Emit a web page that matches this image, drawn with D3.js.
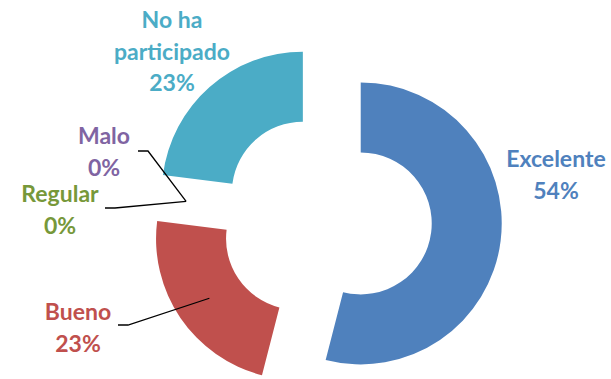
<!DOCTYPE html>
<html>
<head>
<meta charset="utf-8">
<script src="https://cdn.jsdelivr.net/npm/d3@7"></script>
<style>
  body { margin: 0; background: #fff; }
  svg { display: block; }
</style>
</head>
<body>
<div id="chart"></div>
<script>
// data
var categories = ["Excelente", "Bueno", "Regular", "Malo", "No ha participado"];
var percents = [54, 23, 0, 0, 23];
var labelLines = [["Excelente"], ["Bueno"], ["Regular"], ["Malo"], ["No ha", "participado"]];
var colors = ["#4F81BD", "#C0504D", "#9BBB59", "#8064A2", "#4BACC6"];
var textColors = ["#4F81BD", "#C0504D", "#77983A", "#8064A2", "#4BACC6"];

// label placement (center x, first baseline y) and leader start
var labelPos = {
    "Excelente": { x: 556, y: 167, leader: null },
    "Bueno": { x: 78, y: 320, leader: [118, 325] },
    "Regular": { x: 60, y: 202, leader: [105, 208] },
    "Malo": { x: 104, y: 144, leader: [138, 151] },
    "No ha participado": { x: 172, y: 28, leader: null }
};

var width = 611, height = 379;
var cx = 326, cy = 219;
var outerR = 141, innerR = 71, explode = 35;
var lineH = 31.5;

var svg = d3.select("#chart")
    .append("svg")
    .attr("width", width)
    .attr("height", height);

var pie = d3.pie().sort(null).value(function (d) { return d; });
var arcs = pie(percents);

var arc = d3.arc().innerRadius(innerR).outerRadius(outerR);

function offset(d, r) {
    var a = (d.startAngle + d.endAngle) / 2;
    return [Math.sin(a) * r, -Math.cos(a) * r];
}

var g = svg.append("g").attr("transform", "translate(" + cx + "," + cy + ")");

g.selectAll("path")
    .data(arcs.filter(function (d) { return d.value > 0; }))
    .enter()
    .append("path")
    .attr("d", arc)
    .attr("fill", function (d) { return colors[d.index]; })
    .attr("transform", function (d) {
        var o = offset(d, explode);
        return "translate(" + o[0] + "," + o[1] + ")";
    });

// leader lines
arcs.forEach(function (d) {
    var p = labelPos[categories[d.index]];
    if (!p.leader) return;
    var end;
    if (d.value > 0) {
        var o = offset(d, explode);
        var c = arc.centroid(d);
        end = [cx + o[0] + c[0], cy + o[1] + c[1]];
    } else {
        var o2 = offset(d, outerR);
        end = [cx + o2[0], cy + o2[1]];
    }
    svg.append("path")
        .attr("d", d3.line()([p.leader, [p.leader[0] + 10, p.leader[1]], end]))
        .attr("fill", "none")
        .attr("stroke", "#000")
        .attr("stroke-width", 1.3);
});

// labels
arcs.forEach(function (d) {
    var name = categories[d.index];
    var p = labelPos[name];
    var lines = labelLines[d.index].concat([d.value + "%"]);
    var t = svg.append("text")
        .attr("text-anchor", "middle")
        .attr("font-family", "Lato, 'Open Sans', sans-serif")
        .attr("font-weight", "bold")
        .attr("font-size", "23px")
        .attr("fill", textColors[d.index]);
    lines.forEach(function (l, i) {
        t.append("tspan")
            .attr("x", p.x)
            .attr("y", p.y + i * lineH)
            .text(l);
    });
});
</script>
</body>
</html>
